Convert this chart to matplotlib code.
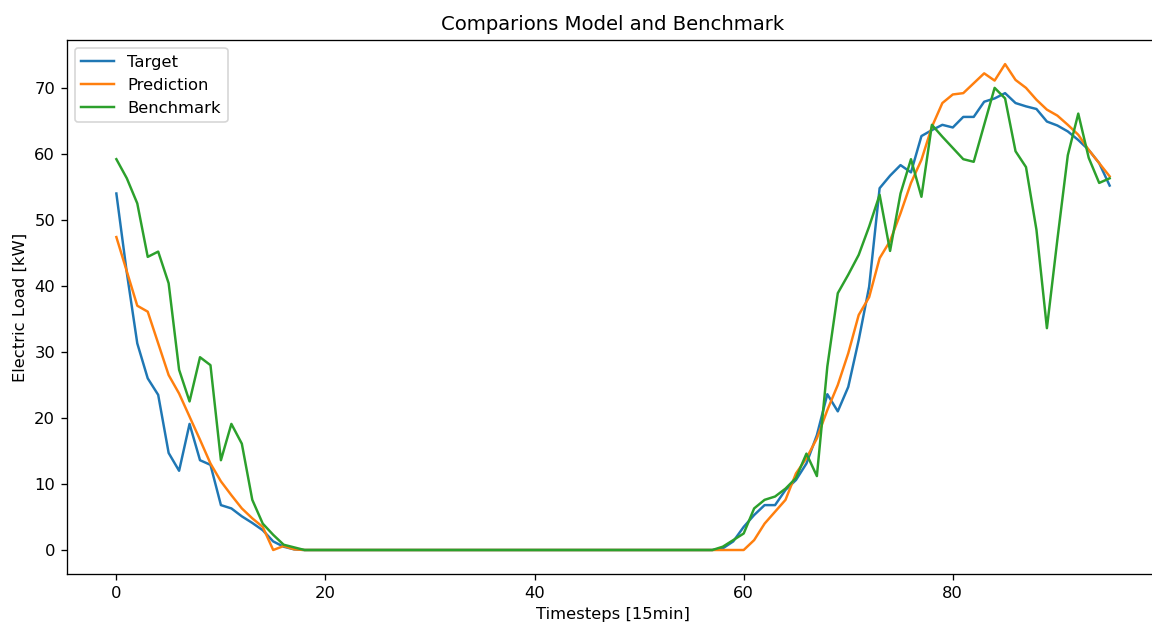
import matplotlib
matplotlib.use("Agg")
import matplotlib.pyplot as plt
import numpy as np

timesteps = list(range(96))

target_start = [54.0, 42.0, 31.3, 26.0, 23.5, 14.7, 12.0, 19.1, 13.6, 12.9,
                6.8, 6.3, 5.1, 4.1, 3.0, 1.3, 0.5, 0.1]
target_end = [0.0, 0.25, 1.3, 3.5, 5.3, 6.8, 6.8, 9.1, 10.6, 13.1,
              17.4, 23.6, 21.0, 24.7, 31.8, 39.9, 54.8, 56.7, 58.3, 57.2,
              62.7, 63.6, 64.4, 64.0, 65.6, 65.6, 67.9, 68.4, 69.2, 67.7,
              67.2, 66.8, 64.9, 64.3, 63.4, 62.1, 60.6, 58.6, 55.2]

pred_start = [47.4, 42.2, 37.0, 36.1, 31.3, 26.5, 23.7, 20.2, 16.7, 13.1,
              10.4, 8.3, 6.3, 4.8, 3.5, 0.0, 0.6, 0.1]
pred_end = [0.0, 0.0, 0.0, 0.0, 1.5, 4.0, 5.8, 7.6, 11.6, 13.9,
            16.9, 21.2, 25.0, 29.8, 35.6, 38.3, 44.2, 46.8, 51.0, 55.6,
            59.1, 64.1, 67.7, 69.0, 69.2, 70.7, 72.2, 71.1, 73.6, 71.2,
            70.0, 68.2, 66.7, 65.8, 64.4, 62.9, 60.6, 58.6, 56.6]

bench_start = [59.2, 56.3, 52.5, 44.4, 45.2, 40.4, 27.3, 22.5, 29.2, 28.0,
               13.6, 19.1, 16.1, 7.6, 4.0, 2.3, 0.8, 0.4]
bench_end = [0.0, 0.5, 1.5, 2.5, 6.3, 7.6, 8.1, 9.3, 10.9, 14.6,
             11.2, 27.8, 38.9, 41.7, 44.7, 49.0, 53.8, 45.3, 54.0, 59.2,
             53.5, 64.4, 62.6, 60.9, 59.2, 58.8, 64.4, 70.0, 68.4, 60.4,
             58.0, 48.5, 33.6, 47.0, 59.8, 66.1, 59.4, 55.6, 56.3]

n_zero = 96 - len(target_start) - len(target_end)
target = target_start + [0.0] * n_zero + target_end
prediction = pred_start + [0.0] * n_zero + pred_end
benchmark = bench_start + [0.0] * n_zero + bench_end

dpi = 118
fig = plt.figure(figsize=(1152 / dpi, 623 / dpi), dpi=dpi)
ax = fig.add_axes([66.7 / 1152, (623 - 574.3) / 623, 1092.6 / 1152, (574.3 - 39.8) / 623])
ax.plot(timesteps, target, label="Target")
ax.plot(timesteps, prediction, label="Prediction")
ax.plot(timesteps, benchmark, label="Benchmark")
ax.set_title("Comparions Model and Benchmark")
ax.set_xlabel("Timesteps [15min]")
ax.set_ylabel("Electric Load [kW]")
ax.spines["right"].set_visible(False)
ax.legend(loc="upper left")
fig.savefig("out.png", dpi=dpi)
